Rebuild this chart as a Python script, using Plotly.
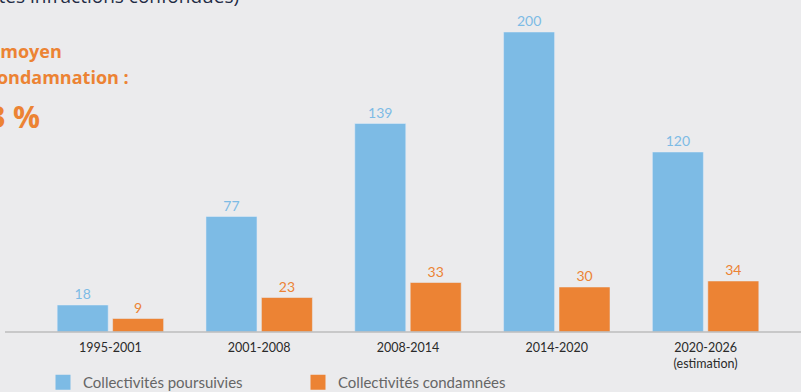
import plotly.graph_objects as go

# Periods and counts of local authorities prosecuted / convicted
periodes = ["1995-2001", "2001-2008", "2008-2014", "2014-2020", "2020-2026<br>(estimation)"]
poursuivies = [18, 77, 139, 200, 120]
condamnees = [9, 23, 33, 30, 34]
series = ["Collectivités poursuivies", "Collectivités condamnées"]

BLEU = "#7dbbe5"
ORANGE = "#ec8334"
FOND = "#ebebed"

W, H = 801, 392
ML, MR, MT, MB = 36, 21, 32, 60
PW, PH = W - ML - MR, H - MT - MB


def px_x(px):
    return (px - ML) / PW


def px_y(py):
    return (H - MB - py) / PH


fig = go.Figure()
for nom, valeurs, couleur in [(series[0], poursuivies, BLEU), (series[1], condamnees, ORANGE)]:
    fig.add_bar(
        x=periodes, y=valeurs, name=nom, showlegend=False,
        marker_color=couleur, text=valeurs, textposition="outside",
        textfont=dict(color=couleur, size=14, family="Lato"), cliponaxis=False,
    )
    # Legend entry with a larger square swatch
    fig.add_scatter(
        x=[None], y=[None], name=nom, mode="markers",
        marker=dict(symbol="square", size=15, color=couleur),
    )

fig.update_layout(
    width=W, height=H,
    margin=dict(l=ML, r=MR, t=MT, b=MB, autoexpand=False),
    paper_bgcolor=FOND, plot_bgcolor=FOND,
    barmode="group", bargap=0.255, bargroupgap=0.08,
    font=dict(family="Lato", color="#333333"),
    showlegend=True,
    legend=dict(
        orientation="h", x=px_x(43), xanchor="left", y=px_y(366), yanchor="top",
        font=dict(size=15, color="#666666"), entrywidth=210, entrywidthmode="pixels",
        bgcolor="rgba(0,0,0,0)", itemsizing="trace",
    ),
    xaxis=dict(
        showgrid=False, showline=False, ticks="", ticklabelstandoff=6,
        tickfont=dict(size=12.5, color="#2a2a2a"),
    ),
    yaxis=dict(range=[0, 200], visible=False, showgrid=False),
)

# Baseline running across the whole width
fig.add_shape(
    type="line", xref="paper", yref="paper",
    x0=px_x(5), x1=px_x(801), y0=0, y1=0,
    line=dict(color="#bdbdbd", width=1.5),
)

# Headline text on the left
fig.add_annotation(
    text="(toutes infractions confondues)", xref="paper", yref="paper",
    x=px_x(241), y=px_y(11), xanchor="right", yanchor="bottom",
    showarrow=False, font=dict(size=19, color="#1f2b45", family="Open Sans"),
)
fig.add_annotation(
    text="<b>Taux moyen</b>", xref="paper", yref="paper",
    x=px_x(64), y=px_y(51), xanchor="right", yanchor="middle",
    showarrow=False, font=dict(size=18, color=ORANGE, family="Open Sans"),
)
fig.add_annotation(
    text="<b>de condamnation :</b>", xref="paper", yref="paper",
    x=px_x(131), y=px_y(77), xanchor="right", yanchor="middle",
    showarrow=False, font=dict(size=18, color=ORANGE, family="Open Sans"),
)
fig.add_annotation(
    text="<b>23 %</b>", xref="paper", yref="paper",
    x=px_x(42), y=px_y(116), xanchor="right", yanchor="middle",
    showarrow=False, font=dict(size=30, color=ORANGE, family="Open Sans"),
)

fig.write_html("out.html")
